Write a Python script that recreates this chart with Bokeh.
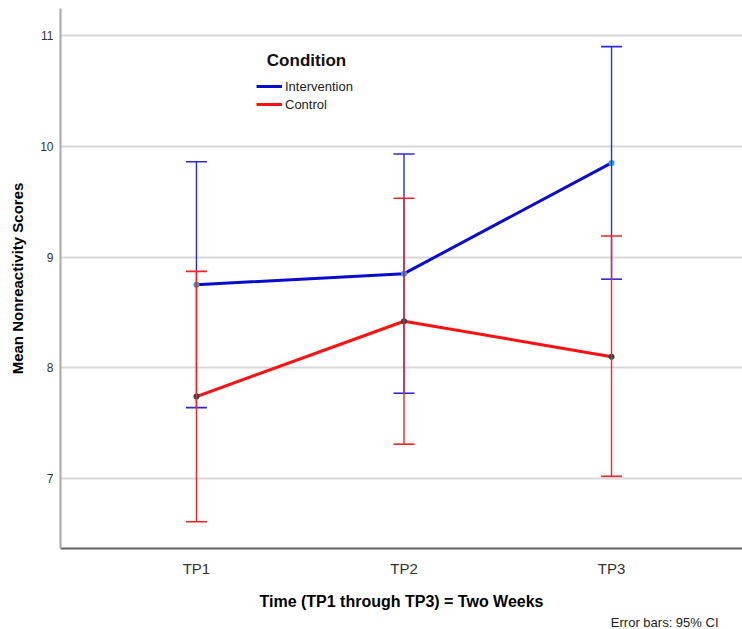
from bokeh.plotting import figure
from bokeh.models import (ColumnDataSource, Whisker, TeeHead, Legend, LegendItem,
                          Label, FixedTicker, Range1d, Title)
from bokeh.embed import file_html
from bokeh.resources import INLINE

# ---- data ----
time_points = ["TP1", "TP2", "TP3"]
x_pos = [1, 2, 3]
intervention_mean = [8.75, 8.85, 9.85]
intervention_lower = [7.64, 7.77, 8.80]
intervention_upper = [9.86, 9.93, 10.90]
control_mean = [7.74, 8.42, 8.10]
control_lower = [6.61, 7.31, 7.02]
control_upper = [8.87, 9.53, 9.19]
y_ticks = [7, 8, 9, 10, 11]

BLUE = "#0b0bd0"
BLUE_ERR = "#2a2ae0"
RED = "#ff1010"
RED_ERR = "#ff2020"

p = figure(width=742, height=629, output_backend="svg", toolbar_location=None,
           x_range=Range1d(0.345, 3.631), y_range=Range1d(6.368, 11.244),
           min_border_left=60, min_border_right=0, min_border_top=8,
           min_border_bottom=81)
p.outline_line_color = None
p.background_fill_color = "white"
p.border_fill_color = "white"

# grid
p.xgrid.grid_line_color = None
p.ygrid.grid_line_color = "#d8d8d8"
p.ygrid.grid_line_width = 2
p.ygrid.ticker = FixedTicker(ticks=y_ticks)

# axes
p.yaxis.ticker = FixedTicker(ticks=y_ticks)
p.xaxis.ticker = FixedTicker(ticks=x_pos)
p.xaxis.major_label_overrides = {x: t for x, t in zip(x_pos, time_points)}
for ax in (p.xaxis[0], p.yaxis[0]):
    ax.major_tick_line_color = None
    ax.minor_tick_line_color = None
    ax.major_tick_out = 0
    ax.major_tick_in = 0
p.yaxis.axis_line_color = "#a8a8a8"
p.yaxis.axis_line_width = 2
p.xaxis.axis_line_color = "#606060"
p.xaxis.axis_line_width = 2

p.yaxis.major_label_text_font = "Liberation Sans"
p.yaxis.major_label_text_font_size = "12px"
p.yaxis.major_label_text_color = "#333333"
p.yaxis.major_label_standoff = 7
p.yaxis.axis_label = "Mean Nonreactivity Scores"
p.yaxis.axis_label_text_font = "Liberation Sans"
p.yaxis.axis_label_text_font_style = "bold"
p.yaxis.axis_label_text_font_size = "15px"
p.yaxis.axis_label_text_color = "#000000"
p.yaxis.axis_label_standoff = 11

p.xaxis.major_label_text_font = "Liberation Sans"
p.xaxis.major_label_text_font_size = "15px"
p.xaxis.major_label_text_color = "#333333"
p.xaxis.major_label_standoff = 11
p.xaxis.axis_label = "Time (TP1 through TP3) = Two Weeks"
p.xaxis.axis_label_text_font = "Liberation Sans"
p.xaxis.axis_label_text_font_style = "bold"
p.xaxis.axis_label_text_font_size = "16px"
p.xaxis.axis_label_text_color = "#000000"
p.xaxis.axis_label_standoff = 13

p.add_layout(Title(text="Error bars: 95% CI", align="right", offset=24,
                   text_font="Liberation Sans", text_font_size="13px",
                   text_font_style="normal", text_color="#222222",
                   standoff=0), "below")

# sources
src_i = ColumnDataSource(dict(x=x_pos, m=intervention_mean,
                              lo=intervention_lower, hi=intervention_upper))
src_c = ColumnDataSource(dict(x=x_pos, m=control_mean,
                              lo=control_lower, hi=control_upper))

# error bars
for src, col in ((src_i, BLUE_ERR), (src_c, RED_ERR)):
    w = Whisker(base="x", upper="hi", lower="lo", source=src,
                line_color=col, line_width=1.4, level="glyph",
                upper_head=TeeHead(size=21, line_color=col, line_width=1.6),
                lower_head=TeeHead(size=21, line_color=col, line_width=1.6))
    p.add_layout(w)

# lines
r_i = p.line("x", "m", source=src_i, line_color=BLUE, line_width=3)
r_c = p.line("x", "m", source=src_c, line_color=RED, line_width=3)
p.scatter("x", "m", source=src_i, size=6, fill_color="#2b9fe6", line_color=None)
p.scatter("x", "m", source=src_c, size=6, fill_color="#1f4a4a", line_color=None)

# legend
legend = Legend(items=[LegendItem(label="Intervention", renderers=[r_i]),
                       LegendItem(label="Control", renderers=[r_c])],
                location=(196, 435), orientation="vertical",
                padding=0, margin=0, spacing=0,
                label_text_font="Liberation Sans", label_text_font_size="13px",
                label_text_color="#222222", label_standoff=3,
                glyph_width=26, glyph_height=18, label_height=18,
                border_line_color=None, background_fill_alpha=0)
p.add_layout(legend)

p.add_layout(Label(x=246, y=488, x_units="screen", y_units="screen",
                   text="Condition", text_font="Liberation Sans",
                   text_font_style="bold", text_font_size="17px",
                   text_align="center", text_baseline="middle",
                   text_color="#111111"))

open("out.html", "w").write(file_html(p, INLINE))
